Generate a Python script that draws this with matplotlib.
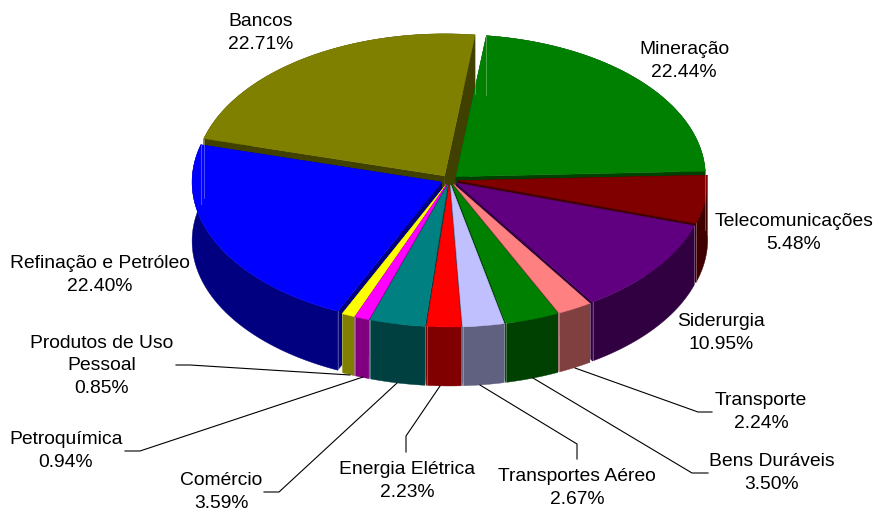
import numpy as np
import matplotlib
matplotlib.use("Agg")
import matplotlib.pyplot as plt

names = ["Mineração", "Telecomunicações", "Siderurgia", "Transporte", "Bens Duráveis",
         "Transportes Aéreo", "Energia Elétrica", "Comércio", "Petroquímica",
         "Produtos de Uso\nPessoal", "Refinação e Petróleo", "Bancos"]
values = [22.44, 5.48, 10.95, 2.24, 3.50, 2.67, 2.23, 3.59, 0.94, 0.85, 22.40, 22.71]

top_colors = ["#008000", "#800000", "#600080", "#FF8080", "#008000", "#C0C0FF",
              "#FF0000", "#008080", "#FF00FF", "#FFFF00", "#0000FF", "#808000"]
side_colors = ["#004000", "#400000", "#300040", "#804040", "#004000", "#606080",
               "#800000", "#004040", "#800080", "#808000", "#000080", "#404000"]

label_pos = [(684, 61), (794, 233), (721, 333), (761, 412), (772, 473), (577, 488),
             (407, 481), (221, 492), (66, 451), (102, 366), (100, 275), (261, 33)]

# leader lines, in pixels
leaders = [
    [(176, 366), (190, 366), (350, 376)],
    [(125, 452), (140, 452), (363, 378)],
    [(264, 493), (279, 493), (397, 384)],
    [(406, 453), (406, 437), (440, 387)],
    [(577, 460), (577, 445), (480, 386)],
    [(708, 474), (692, 474), (533, 379)],
    [(712, 413), (698, 413), (575, 369)],
]

cx, cy = 449.5, 181
rx, ry = 249.5, 142
depth = 59
explode = 0.035
start = 7

plt.rcParams['font.family'] = ['Liberation Sans', 'DejaVu Sans']
fig = plt.figure(figsize=(8.74, 5.10), dpi=100)
ax = fig.add_axes([0, 0, 1, 1])
ax.set_xlim(0, 874)
ax.set_ylim(510, 0)
ax.axis("off")


def point(ang, ox, oy):
    a = np.radians(ang)
    return ox + rx * np.sin(a), oy - ry * np.cos(a)


edges = start + np.cumsum([0] + values) * 360 / sum(values)
slices = []
for i in range(len(values)):
    a0, a1 = edges[i], edges[i + 1]
    mid = (a0 + a1) / 2
    slices.append((np.cos(np.radians(mid)), i, a0, a1, mid))
# back to front
slices.sort(key=lambda s: -s[0])

for _, i, a0, a1, mid in slices:
    m = np.radians(mid)
    ox = cx + explode * rx * np.sin(m)
    oy = cy - explode * ry * np.cos(m)
    arc = np.linspace(a0, a1, 100)
    xs, ys = point(arc, ox, oy)
    # radial faces
    for k in (0, -1):
        ax.fill([ox, xs[k], xs[k], ox], [oy, ys[k], ys[k] + depth, oy + depth],
                color=side_colors[i], lw=0.3)
    # outer wall
    ax.fill(np.r_[xs, xs[::-1]], np.r_[ys, ys[::-1] + depth], color=side_colors[i], lw=0.3)
    # pale line on the wall corners
    for k in (0, -1):
        ax.plot([xs[k], xs[k]], [ys[k], ys[k] + depth], color="white", alpha=0.35, lw=0.6)
    # top face
    ax.fill(np.r_[ox, xs], np.r_[oy, ys], color=top_colors[i], lw=0.3)

for line in leaders:
    ax.plot([p[0] for p in line], [p[1] for p in line], color="black", lw=0.8)

for name, v, (x, y) in zip(names, values, label_pos):
    ax.text(x, y, f"{name}\n{v:.2f}%", ha="center", va="center", fontsize=13.9,
            linespacing=1.42, color="black")

fig.savefig("out.png", dpi=100)
